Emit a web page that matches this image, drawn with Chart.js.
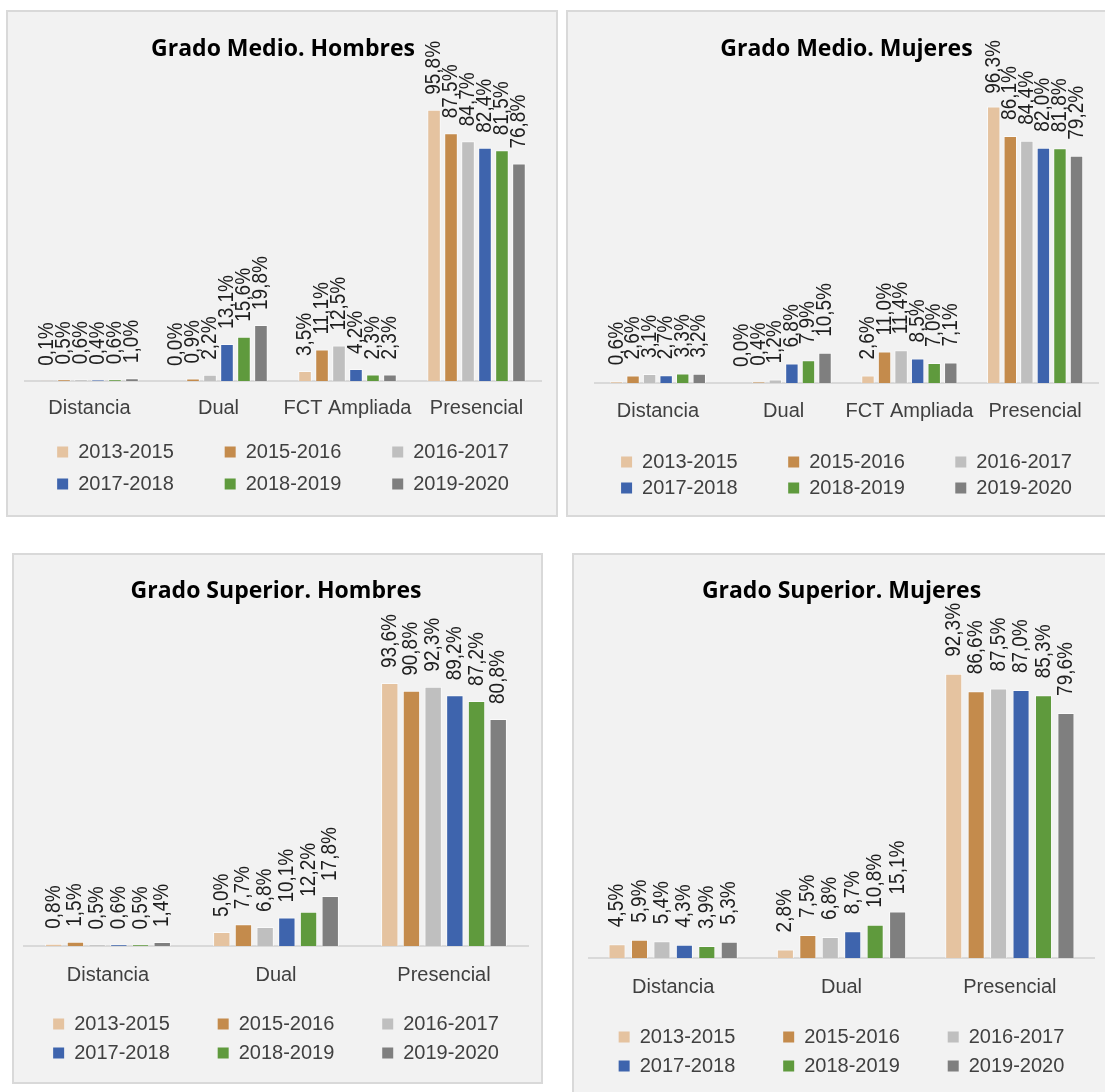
<!DOCTYPE html>
<html><head><meta charset="utf-8">
<script src="https://cdn.jsdelivr.net/npm/chart.js@4.4.1/dist/chart.umd.min.js"></script>
<style>
html,body{margin:0;padding:0;background:#fff;}
body{width:1105px;height:1092px;overflow:hidden;position:relative;}
.panel{position:absolute;background:#f2f2f2;border:2px solid #d9d9d9;box-sizing:border-box;overflow:hidden;}
.panel canvas{position:absolute;left:0;top:0;}
</style></head>
<body>
<div class="panel" style="left:6px;top:10px;width:552px;height:507px"><canvas id="c1" width="548" height="503" style="width:548px;height:503px"></canvas></div>
<div class="panel" style="left:566px;top:10px;width:545px;height:507px"><canvas id="c2" width="541" height="503" style="width:541px;height:503px"></canvas></div>
<div class="panel" style="left:12px;top:553px;width:531px;height:531px"><canvas id="c3" width="527" height="527" style="width:527px;height:527px"></canvas></div>
<div class="panel" style="left:572px;top:553px;width:540px;height:545px"><canvas id="c4" width="536" height="541" style="width:536px;height:541px"></canvas></div>
<script>
// ---------- DATA ----------
const seriesLabels = ['2013-2015','2015-2016','2016-2017','2017-2018','2018-2019','2019-2020'];
const catsMedio = ['Distancia','Dual','FCT Ampliada','Presencial'];
const catsSuperior = ['Distancia','Dual','Presencial'];
const titles = ['Grado Medio. Hombres','Grado Medio. Mujeres','Grado Superior. Hombres','Grado Superior. Mujeres'];

// one row per series (2013-2015 ... 2019-2020), one value per category
const medioHombres = [
  [0.1, 0.0, 3.5, 95.8],
  [0.5, 0.9, 11.1, 87.5],
  [0.6, 2.2, 12.5, 84.7],
  [0.4, 13.1, 4.2, 82.4],
  [0.6, 15.6, 2.3, 81.5],
  [1.0, 19.8, 2.3, 76.8]
];
const medioMujeres = [
  [0.6, 0.0, 2.6, 96.3],
  [2.6, 0.4, 11.0, 86.1],
  [3.1, 1.2, 11.4, 84.4],
  [2.7, 6.8, 8.5, 82.0],
  [3.3, 7.9, 7.0, 81.8],
  [3.2, 10.5, 7.1, 79.2]
];
const superiorHombres = [
  [0.8, 5.0, 93.6],
  [1.5, 7.7, 90.8],
  [0.5, 6.8, 92.3],
  [0.6, 10.1, 89.2],
  [0.5, 12.2, 87.2],
  [1.4, 17.8, 80.8]
];
const superiorMujeres = [
  [4.5, 2.8, 92.3],
  [5.9, 7.5, 86.6],
  [5.4, 6.8, 87.5],
  [4.3, 8.7, 87.0],
  [3.9, 10.8, 85.3],
  [5.3, 15.1, 79.6]
];

// ---------- STYLE ----------
const seriesColors = ['#e5c3a0','#c48b4c','#bfbfbf','#3e64ad','#5f9a3d','#7f7f7f'];
const LABEL_FONT = "'Liberation Sans', Arial, sans-serif";
const TITLE_FONT = "'Open Sans', 'Noto Sans', sans-serif";

function fmt(v){ return v.toFixed(1).replace('.', ',') + '%'; }

const measureCtx = document.createElement('canvas').getContext('2d');
function padText(text, target, size){
  if (!target) return text;
  measureCtx.font = size + 'px ' + LABEL_FONT;
  const w0 = measureCtx.measureText(text).width;
  const s = measureCtx.measureText(' ').width;
  const n = Math.max(0, Math.round((target - w0) / s));
  return text + ' '.repeat(n);
}

const rotLabels = {
  id: 'rotLabels',
  afterDatasetsDraw(chart, args, opts){
    const ctx = chart.ctx;
    ctx.save();
    ctx.font = opts.size + 'px ' + LABEL_FONT;
    ctx.fillStyle = opts.color;
    ctx.textBaseline = 'middle';
    ctx.textAlign = 'left';
    chart.data.datasets.forEach((ds, di) => {
      const meta = chart.getDatasetMeta(di);
      meta.data.forEach((bar, i) => {
        const txt = fmt(ds.data[i]);
        const len = ctx.measureText(txt).width;
        let start = bar.y - opts.offset;
        if (start - len < opts.minTop) start = opts.minTop + len;
        ctx.save();
        ctx.translate(bar.x, start);
        ctx.rotate(-Math.PI / 2);
        ctx.scale(1, opts.thick);
        ctx.fillText(txt, 0, 0);
        ctx.restore();
      });
    });
    ctx.restore();
  }
};

function makeChart(id, title, cats, values, L){
  const datasets = values.map((row, i) => ({
    label: seriesLabels[i],
    data: row,
    backgroundColor: seriesColors[i],
    borderColor: 'rgba(255,255,255,0.6)',
    borderWidth: 1,
    categoryPercentage: L.catPct,
    barPercentage: L.barPct
  }));
  return new Chart(document.getElementById(id), {
    type: 'bar',
    data: { labels: cats, datasets },
    plugins: [rotLabels],
    options: {
      responsive: false,
      devicePixelRatio: 1,
      animation: false,
      layout: { padding: { left: L.padL, right: L.padR, top: 0, bottom: L.padB } },
      plugins: {
        title: {
          display: true, text: title, color: '#000',
          font: { family: TITLE_FONT, weight: 'bold', size: 23 },
          padding: { top: L.titleTop, bottom: L.titleBottom }
        },
        legend: {
          position: 'bottom',
          labels: {
            boxWidth: 11, boxHeight: 11, padding: L.legPad, color: '#404040',
            font: { family: LABEL_FONT, size: 20 },
            generateLabels(chart){
              return chart.data.datasets.map((ds, i) => ({
                text: padText(ds.label, (i % 3 === 2) ? 0 : L.legTextW, 20),
                fillStyle: ds.backgroundColor,
                strokeStyle: ds.backgroundColor,
                lineWidth: 0,
                fontColor: '#404040',
                hidden: false,
                datasetIndex: i
              }));
            }
          }
        },
        tooltip: { enabled: false },
        rotLabels: { size: 19, thick: 1.15, color: '#1e1e1e', offset: L.labOff, minTop: L.minTop }
      },
      scales: {
        x: {
          grid: { display: false, drawTicks: false },
          border: { display: true, color: '#d9d9d9', width: 2 },
          ticks: { color: '#404040', font: { family: LABEL_FONT, size: 20 }, padding: L.tickPad, maxRotation: 0, autoSkip: false },
          afterFit(scale){ scale.height = L.axisH; }
        },
        y: { display: false, min: 0, max: L.ymax }
      }
    }
  });
}

makeChart('c1', titles[0], catsMedio, medioHombres, {
  padL: 17, padR: 15, padB: 11, titleTop: 24, titleBottom: 6, ymax: 110.0,
  legPad: 12, legTextW: 136, tickPad: 15, axisH: 49, catPct: 0.79, barPct: 0.8, labOff: 15, minTop: 28
});
makeChart('c2', titles[1], catsMedio, medioMujeres, {
  padL: 27, padR: 11, padB: 7, titleTop: 24, titleBottom: 6, ymax: 109.2,
  legPad: 6, legTextW: 140, tickPad: 16, axisH: 63, catPct: 0.79, barPct: 0.81, labOff: 16, minTop: 28
});
makeChart('c3', titles[2], catsSuperior, superiorHombres, {
  padL: 10, padR: 13, padB: 9, titleTop: 23, titleBottom: 6, ymax: 119.0,
  legPad: 9, legTextW: 133, tickPad: 17, axisH: 59, catPct: 0.775, barPct: 0.8, labOff: 15, minTop: 20
});
makeChart('c4', titles[3], catsSuperior, superiorMujeres, {
  padL: 15, padR: 16, padB: 10, titleTop: 23, titleBottom: 6, ymax: 112.5,
  legPad: 9, legTextW: 135, tickPad: 17, axisH: 60, catPct: 0.8, barPct: 0.76, labOff: 17, minTop: 20
});
</script>
</body></html>
